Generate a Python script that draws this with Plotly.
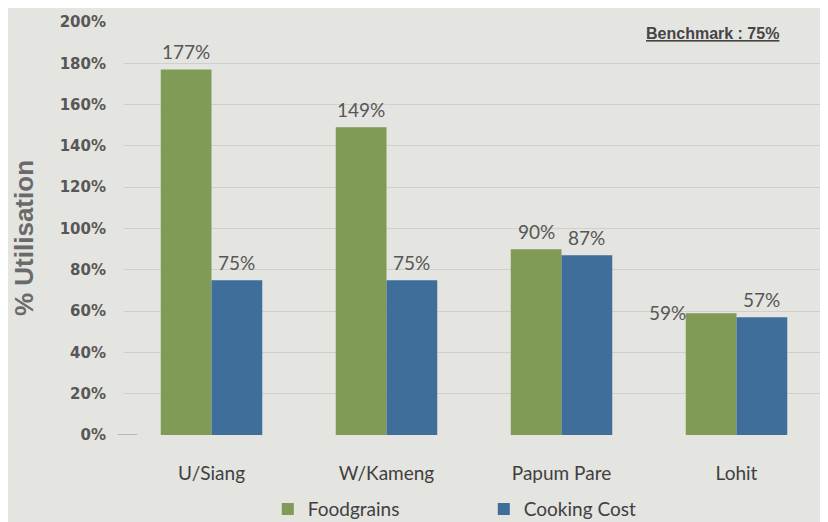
import plotly.graph_objects as go

# data
districts = ['U/Siang', 'W/Kameng', 'Papum Pare', 'Lohit']
foodgrains = [177, 149, 90, 59]
cooking_cost = [75, 75, 87, 57]
y_ticks = [0, 20, 40, 60, 80, 100, 120, 140, 160, 180, 200]

bg = '#e4e4e0'
grey_txt = '#575757'
label_font = dict(family='Lato, Open Sans, sans-serif', size=19, color=grey_txt)

fig = go.Figure()

fig.add_trace(go.Bar(x=districts, y=foodgrains, name='Foodgrains',
                     marker=dict(color='#7f9b55', line=dict(width=0))))
fig.add_trace(go.Bar(x=districts, y=cooking_cost, name='Cooking Cost',
                     marker=dict(color='#3f6e9b', line=dict(width=0))))

# value labels above the bars (Lohit foodgrains label sits to the left in the original)
group_off = 0.29
for i, d in enumerate(districts):
    for v, off in ((foodgrains[i], -group_off / 2), (cooking_cost[i], group_off / 2)):
        xs, ys = 0, 18
        if d == 'Lohit' and off < 0:
            xs, ys = -44, 1
        fig.add_annotation(x=i + off, y=v, xref='x', yref='y', text=f'{v}%',
                           showarrow=False, xanchor='center', yanchor='middle',
                           xshift=xs, yshift=ys, font=label_font)

# benchmark note, top right
fig.add_annotation(
    x=0.938, y=0.973, xref='paper', yref='paper',
    xanchor='right', yanchor='middle', showarrow=False,
    text='<u>Benchmark : 75%</u>',
    font=dict(family='Liberation Sans, Arial', size=16, color='#454545', weight='bold')
)

# y axis title
fig.add_annotation(
    x=0, y=0.477, xref='paper', yref='paper', xshift=-100,
    xanchor='center', yanchor='middle', showarrow=False, textangle=-90,
    text='% Utilisation',
    font=dict(family='Liberation Sans, Arial', size=26, color='#6a6a6a', weight='bold')
)

# short tick at the 0% line
fig.add_shape(type='line', xref='paper', yref='y', x0=-0.009, x1=0.019, y0=0, y1=0,
              line=dict(color='#8a8a88', width=1))

fig.update_layout(
    width=820, height=514,
    margin=dict(l=116, r=4, t=14, b=87, autoexpand=False),
    paper_bgcolor=bg, plot_bgcolor=bg,
    barmode='group', bargap=0.42, bargroupgap=0,
    showlegend=True,
    legend=dict(
        orientation='h', x=0.514, y=0.025, yref='container',
        xanchor='center', yanchor='middle',
        font=dict(family='Lato, Open Sans, sans-serif', size=19, color='#404040'),
        entrywidth=171, itemwidth=30, bgcolor='rgba(0,0,0,0)'
    ),
    xaxis=dict(
        type='category', range=[-0.5, 3.5], showgrid=False, zeroline=False,
        showline=False, ticks='', automargin=False,
        tickfont=dict(family='Lato, Open Sans, sans-serif', size=19, color='#404040'),
        ticklabelstandoff=25
    ),
    yaxis=dict(
        range=[0, 200], tickvals=y_ticks, ticktext=[f'{v}%' for v in y_ticks],
        showgrid=True, gridcolor='#cfcfcb', gridwidth=1, zeroline=False,
        showline=False, ticks='', automargin=False,
        tickfont=dict(family='DejaVu Sans', size=15, color=grey_txt, weight='bold'),
        ticklabelstandoff=17
    )
)

fig.write_html('out.html')
